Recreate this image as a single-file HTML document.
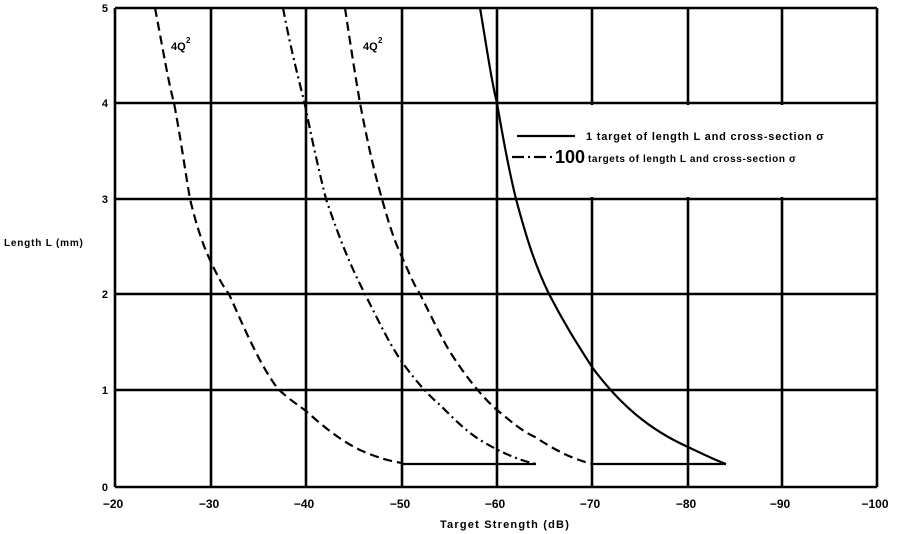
<!DOCTYPE html>
<html><head><style>body{margin:0;background:#fff}svg{display:block}text{font-family:"Liberation Sans",sans-serif;font-weight:bold;fill:#000}</style></head><body>
<svg width="900" height="534" viewBox="0 0 900 534" xmlns="http://www.w3.org/2000/svg">
<g stroke="#000" stroke-width="2.6" fill="none">
<line x1="115" y1="8" x2="115" y2="487"/><line x1="211" y1="8" x2="211" y2="487"/><line x1="306" y1="8" x2="306" y2="487"/><line x1="402" y1="8" x2="402" y2="487"/><line x1="497" y1="8" x2="497" y2="487"/><line x1="592" y1="8" x2="592" y2="487"/><line x1="688" y1="8" x2="688" y2="487"/><line x1="782" y1="8" x2="782" y2="487"/><line x1="877" y1="8" x2="877" y2="487"/>
<line x1="115" y1="8" x2="877" y2="8"/><line x1="115" y1="103" x2="877" y2="103"/><line x1="115" y1="199" x2="877" y2="199"/><line x1="115" y1="294" x2="877" y2="294"/><line x1="115" y1="390" x2="877" y2="390"/><line x1="115" y1="487" x2="877" y2="487"/>
</g>
<rect x="499" y="105" width="376" height="92" fill="#fff"/>
<g stroke="#000" fill="none" stroke-width="2.2">
<path d="M480,8 C488,55 492,85 497,103 C505,150 510,175 516,199 C527,240 535,265 549,294 C565,325 578,345 592,367 C620,405 650,430 688,447 C705,455 715,460 726,464"/>
<path d="M402,464 H536 M592,464 H726"/>
<path stroke-dasharray="9,5" d="M155,8 C164,55 168,80 174,103 C181,140 185,170 190,199 C197,228 204,248 211,262 C217,275 222,285 229,294 C245,330 260,365 278,389 C290,400 298,405 306,411 C325,428 340,440 360,450 C378,458 390,461 402,463"/>
<path stroke-dasharray="9,4,2,4" d="M283,8 C292,55 299,80 305,105 C313,145 320,175 326,199 C340,240 350,265 365,294 C378,320 390,345 402,362 C415,380 428,395 440,405 C455,420 465,430 480,440 C500,452 518,460 536,464"/>
<path stroke-dasharray="9,5" d="M345,8 C352,55 356,80 360,103 C368,145 375,175 382,199 C390,228 396,245 402,257 C410,275 414,285 420,294 C432,318 440,335 450,352 C465,375 480,395 497,410 C512,422 520,430 535,437 C555,450 570,458 592,464"/>
<line x1="517" y1="136" x2="575" y2="136"/>
<path stroke-dasharray="12,4,2,4" d="M512,157 H556"/>
</g>
<text x="586" y="140" font-size="11" letter-spacing="0.8">1 target of length L and cross-section σ</text>
<text x="555" y="163" font-size="18" font-weight="normal">100</text>
<text x="588" y="162" font-size="10" letter-spacing="0.6">targets of length L and cross-section σ</text>
<text x="171" y="50" font-size="11">4Q</text><text x="186" y="43" font-size="8">2</text>
<text x="363" y="50" font-size="11">4Q</text><text x="378" y="43" font-size="8">2</text>
<g font-size="11" text-anchor="end">
<text x="108" y="12">5</text><text x="108" y="107">4</text><text x="108" y="203">3</text><text x="108" y="298">2</text><text x="108" y="394">1</text><text x="108" y="491">0</text>
</g>
<g font-size="12" text-anchor="middle">
<text x="113" y="508">−20</text><text x="209" y="508">−30</text><text x="304" y="508">−40</text><text x="400" y="508">−50</text><text x="495" y="508">−60</text><text x="590" y="508">−70</text><text x="686" y="508">−80</text><text x="780" y="508">−90</text><text x="875" y="508">−100</text>
</g>
<text x="505" y="528" font-size="11" text-anchor="middle" letter-spacing="1.2">Target Strength (dB)</text>
<text x="4" y="246" font-size="10" letter-spacing="0.8">Length L (mm)</text>
</svg>
</body></html>
